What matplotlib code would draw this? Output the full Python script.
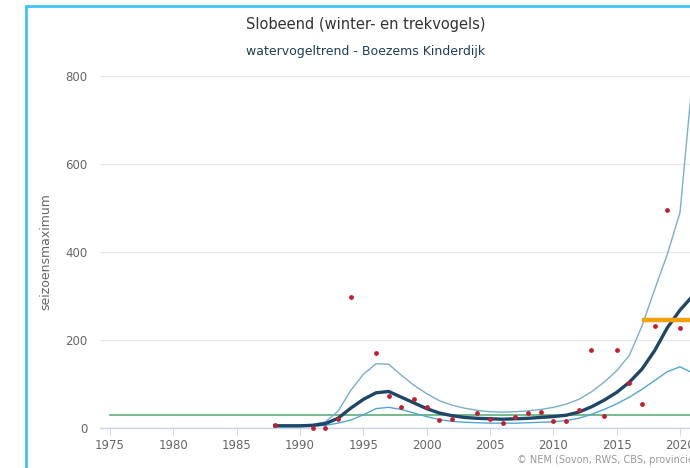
import matplotlib
matplotlib.use("Agg")
import matplotlib.pyplot as plt
from matplotlib.patches import Rectangle

plt.rcParams['font.family'] = ['DejaVu Sans']

# ---- data ----
years_obs = [1988, 1991, 1992, 1993, 1994, 1996, 1997, 1998, 1999, 2000, 2001, 2002,
             2004, 2005, 2006, 2007, 2008, 2009, 2010, 2011, 2012, 2013, 2014, 2015,
             2016, 2017, 2018, 2019, 2020]
counts_obs = [6, 0, 0, 20, 297, 171, 72, 48, 67, 48, 18, 21,
              34, 21, 11, 26, 34, 37, 17, 17, 40, 177, 27, 177,
              102, 54, 232, 495, 227]

years_trend = list(range(1988, 2022))
trend = [5, 5, 5, 6, 10, 22, 45, 65, 80, 83, 70, 57, 44, 34, 28, 24, 22, 21, 20, 21,
         22, 24, 26, 29, 36, 48, 63, 81, 104, 134, 176, 228, 268, 300]
upper = [7, 7, 7, 8, 14, 38, 85, 122, 146, 145, 120, 97, 78, 62, 52, 45, 40, 37, 36, 37,
         39, 42, 47, 54, 65, 82, 104, 130, 165, 232, 315, 395, 490, 800]
lower = [3, 3, 3, 4, 6, 11, 18, 30, 44, 47, 42, 34, 26, 19, 15, 13, 12, 11, 11, 11,
         12, 13, 14, 17, 22, 31, 42, 55, 70, 88, 108, 128, 139, 125]

reference_level = 30
period_years = [2017, 2022]
period_mean = 245

x_ticks = [1975, 1980, 1985, 1990, 1995, 2000, 2005, 2010, 2015, 2020]
y_ticks = [0, 200, 400, 600, 800]

# ---- figure ----
W, H = 690, 468
fig = plt.figure(figsize=(W / 100, H / 100), dpi=100)
fig.patch.set_facecolor('white')

# blue container border (left and top)
fig.patches.append(Rectangle((26 / W, -0.1), 1.2, (H - 6) / H + 0.1,
                             transform=fig.transFigure, fill=False,
                             edgecolor='#3fc3f3', linewidth=2.0))

left_px, right_px, top_px, bottom_px = 100, 690, 76, 428
ax = fig.add_axes([left_px / W, 1 - bottom_px / H,
                   (right_px - left_px) / W, (bottom_px - top_px) / H])
ax.set_facecolor('none')

x0_px, px_per_year = 110, 12.667
ax.set_xlim(1975 - (x0_px - left_px) / px_per_year,
            1975 + (right_px - x0_px) / px_per_year)
ax.set_ylim(0, 800)

for s in ax.spines.values():
    s.set_visible(False)

ax.set_yticks(y_ticks)
ax.set_xticks(x_ticks)
ax.grid(axis='y', color='#e6e6e6', linewidth=1.0)
ax.set_axisbelow(True)
ax.tick_params(axis='y', length=0, labelsize=8.5, labelcolor='#666666', pad=9)
ax.tick_params(axis='x', length=5, width=0.8, color='#ccd6eb', labelsize=8.5,
               labelcolor='#666666', pad=3)
ax.axhline(0, color='#ccd6eb', linewidth=1.0, zorder=1, clip_on=False)

xl = ax.get_xlim()
ax.axhline(reference_level, xmin=(1975 - xl[0]) / (xl[1] - xl[0]),
           color='#5fae78', linewidth=1.2, zorder=2)

ax.plot(years_trend, upper, color='#7aaecb', linewidth=1.0, zorder=3)
ax.plot(years_trend, lower, color='#4fa8d2', linewidth=1.0, zorder=3)
ax.plot(years_trend, trend, color='#1e4667', linewidth=2.4, zorder=4)
ax.plot(period_years, [period_mean, period_mean], color='#f5a00f', linewidth=3.2,
        zorder=5, solid_capstyle='butt')
ax.scatter(years_obs, counts_obs, s=12, color='#c41e2e', zorder=6, clip_on=False,
           linewidths=0)

ax.set_ylabel('seizoensmaximum', fontsize=9, color='#666666', labelpad=9)

fig.text(366 / W, 1 - 25 / H, 'Slobeend (winter- en trekvogels)', ha='center',
         va='center', fontsize=10.5, color='#333333')
fig.text(366 / W, 1 - 51 / H, 'watervogeltrend - Boezems Kinderdijk', ha='center',
         va='center', fontsize=9, color='#1f3f52')
fig.text(517 / W, 1 - 460 / H, '© NEM (Sovon, RWS, CBS, provincies)', ha='left',
         va='center', fontsize=7, color='#999999')

fig.savefig('out.png', dpi=100)
